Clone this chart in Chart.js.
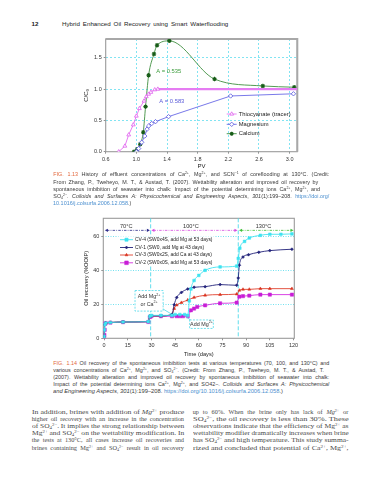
<!DOCTYPE html>
<html>
<head>
<meta charset="utf-8">
<script src="https://cdn.jsdelivr.net/npm/chart.js@4.4.0/dist/chart.umd.min.js"></script>
<style>
  html, body { margin: 0; padding: 0; background: #fff; }
  body { width: 389px; height: 480px; position: relative; overflow: hidden; color: #222; }
  canvas { position: absolute; }
  .ln { position: absolute; white-space: nowrap; line-height: 1; transform-origin: 0 50%; }
  .head { font-family: 'Liberation Sans', Arial, sans-serif; font-size: 6.2px; color: #222; }
  .cap { font-family: 'Liberation Sans', Arial, sans-serif; font-size: 5.4px; color: #3a3a3a; }
  .txt { font-family: 'Liberation Serif', 'Times New Roman', serif; font-size: 6.3px; color: #4a4a4a; }
  sup { font-size: 65%; vertical-align: 0.45em; line-height: 0; }
  sub { font-size: 65%; vertical-align: -0.25em; line-height: 0; }
  .fig { color: #e2673c; }
  .lnk { color: #4b8fcf; }
</style>
</head>
<body>
<canvas id="chart-top" width="250" height="142" style="left:60px;top:32px"></canvas>
<canvas id="chart-bottom" width="250" height="146" style="left:58px;top:212px"></canvas>
<script>
'use strict';

//  TOP CHART DATA (effluent concentration vs pore volumes)
let pvTicks = [0.6, 1.0, 1.4, 1.8, 2.2, 2.6, 3.0];
let ccTicks = [0.0, 0.5, 1.0, 1.5];

let thioPV = [0.77, 0.85, 0.90, 0.96, 1.00, 1.04, 1.10, 1.13, 1.16, 1.19, 1.24, 1.28, 3.10];
let thioC = [0.00, 0.09, 0.27, 0.43, 0.57, 0.69, 0.81, 0.88, 0.92, 0.95, 0.99, 1.00, 1.00];

let mgPV = [1.00, 1.03, 1.07, 1.11, 1.14, 1.16, 1.20, 1.25, 1.42, 2.23, 3.05];
let mgC = [0.00, 0.05, 0.15, 0.25, 0.36, 0.41, 0.45, 0.48, 0.56, 0.89, 0.925];

let caPV = [0.97, 1.01, 1.05, 1.09, 1.12, 1.16, 1.23, 1.27, 1.43, 2.02, 2.65, 3.06];
let caC = [0.00, 0.04, 0.12, 0.31, 0.72, 1.22, 1.56, 1.70, 1.77, 1.16, 1.05, 1.03];

//  BOTTOM CHART DATA (oil recovery vs time)
let dayTicks = [0, 15, 30, 45, 60, 75, 90, 105, 120];
let recTicks = [0, 20, 40, 60];

let cv4Days = [0, 0.2, 0.4, 1, 4, 12, 28, 29, 30, 36, 43, 45, 48, 51, 53, 54, 55, 57, 60, 64, 73.5, 84, 85, 86, 89, 92, 99, 105, 112, 119];
let cv4Rec = [1, 5, 8, 9, 9.3, 9.6, 9.8, 13, 13.5, 13.5, 13.5, 14, 14, 14, 13.5, 22, 29, 34, 37, 40, 42, 42.5, 47, 53, 57, 59, 60.6, 61.2, 61.2, 61.4];

let cv1Days = [0, 0.3, 1, 4, 12, 28, 29, 30, 36, 43, 44.4, 46, 49, 53, 57, 64, 73.5, 84, 85, 85.7, 88, 91.5, 98, 105, 119];
let cv1Rec = [1, 8, 9, 9.3, 9.6, 9.8, 13, 13.2, 13.2, 14, 19.8, 24, 27, 29, 30, 30.4, 31.6, 31.2, 35.5, 43, 47.8, 49.2, 50.6, 51.6, 52.4];

let cv3Days = [0, 0.3, 1, 4, 12, 28, 29, 30, 36, 43, 44.4, 46, 49, 53, 57, 64, 73.5, 84, 85.7, 88, 92, 99, 105, 119];
let cv3Rec = [1, 8, 9, 9.3, 9.6, 9.8, 13, 13.2, 13.2, 14, 17.5, 19.5, 21, 22.5, 24, 25.3, 25.7, 26, 28.2, 28.8, 28.8, 29.2, 29.2, 29.2];

let cv2Days = [0, 0.2, 0.4, 0.6, 1, 4, 12, 28, 29, 30, 36, 43, 46, 48, 50, 53, 55, 57, 59, 64, 73.5, 84, 85.7, 88, 92, 99, 105, 119];
let cv2Rec = [0.5, 2, 5, 8.5, 9, 9.2, 9.5, 9.6, 12.5, 13, 13, 13, 13, 13, 13, 13, 16.5, 17.5, 18.5, 19.4, 20.6, 21, 24.5, 24.8, 25.1, 25.7, 25.7, 25.7];

let tempLabels = ['70°C', '100°C', '130°C'];
let tempBounds = [0, 29.5, 85, 120.5];
let tempTextDay = [14, 55, 101];
let tempColors = ['#2b2b8c', '#d54ae0', '#42c23a'];

//  HELPERS
const FONT = "'Liberation Sans', Arial, sans-serif";
const GRID_CYAN = 'rgba(70, 215, 235, 0.85)';
const CLEAR = 'rgba(0,0,0,0)';

Chart.defaults.font.family = FONT;
Chart.defaults.color = '#333';

function pairs(xs, ys) {
  return xs.map((x, i) => ({ x: x, y: ys[i] }));
}

function drawMarker(ctx, style, x, y, r, fill, stroke, lw) {
  ctx.save();
  ctx.lineWidth = lw;
  ctx.strokeStyle = stroke;
  ctx.fillStyle = fill;
  ctx.setLineDash([]);
  ctx.beginPath();
  if (style === 'triangle') {
    ctx.moveTo(x, y - r);
    ctx.lineTo(x + r * 0.87, y + r * 0.5);
    ctx.lineTo(x - r * 0.87, y + r * 0.5);
    ctx.closePath();
    ctx.fill();
    ctx.stroke();
  } else if (style === 'rectRot') {
    ctx.moveTo(x, y - r);
    ctx.lineTo(x + r, y);
    ctx.lineTo(x, y + r);
    ctx.lineTo(x - r, y);
    ctx.closePath();
    ctx.fill();
    ctx.stroke();
  } else if (style === 'rect') {
    ctx.rect(x - r * 0.8, y - r * 0.8, r * 1.6, r * 1.6);
    ctx.fill();
    ctx.stroke();
  } else if (style === 'star') {
    ctx.moveTo(x - r, y); ctx.lineTo(x + r, y);
    ctx.moveTo(x, y - r); ctx.lineTo(x, y + r);
    ctx.moveTo(x - r * 0.7, y - r * 0.7); ctx.lineTo(x + r * 0.7, y + r * 0.7);
    ctx.moveTo(x - r * 0.7, y + r * 0.7); ctx.lineTo(x + r * 0.7, y - r * 0.7);
    ctx.stroke();
  }
  ctx.restore();
}

// parts: [[text, ''|'sup']]
function richText(ctx, parts, x, y, size, align, color) {
  let widths = parts.map(p => {
    ctx.font = (p[1] ? size * 0.68 : size) + 'px ' + FONT;
    return ctx.measureText(p[0]).width;
  });
  let total = widths.reduce((a, b) => a + b, 0);
  let cx = align === 'center' ? x - total / 2 : x;
  ctx.textBaseline = 'middle';
  ctx.textAlign = 'left';
  ctx.fillStyle = color;
  parts.forEach((p, i) => {
    ctx.font = (p[1] ? size * 0.68 : size) + 'px ' + FONT;
    ctx.fillText(p[0], cx, p[1] ? y - size * 0.38 : y);
    cx += widths[i];
  });
}

function arrowHead(ctx, x, y, dir, color) {
  ctx.fillStyle = color;
  ctx.beginPath();
  ctx.moveTo(x, y);
  ctx.lineTo(x - dir * 3, y - 1.6);
  ctx.lineTo(x - dir * 3, y + 1.6);
  ctx.closePath();
  ctx.fill();
}

function drawLegend(ctx, chart, x0, x1, rows, size) {
  chart.data.datasets.forEach((ds, i) => {
    let yy = rows[i];
    ctx.save();
    ctx.strokeStyle = ds.borderColor;
    ctx.lineWidth = 0.9;
    ctx.beginPath();
    ctx.moveTo(x0, yy);
    ctx.lineTo(x1, yy);
    ctx.stroke();
    ctx.restore();
    drawMarker(ctx, ds.pointStyle, (x0 + x1) / 2, yy, ds.legendRadius, ds.pointBackgroundColor, ds.pointBorderColor, ds.pointBorderWidth);
    ctx.fillStyle = '#222';
    ctx.font = size + 'px ' + FONT;
    ctx.textBaseline = 'middle';
    ctx.textAlign = 'left';
    ctx.fillText(ds.label, x1 + 2, yy);
  });
}

// FRAME AROUND PLOT AREA
let framePlugin = {
  id: 'frame',
  beforeDatasetsDraw(chart) {
    let { ctx, chartArea: a } = chart;
    ctx.save();
    ctx.strokeStyle = '#9a9a9a';
    ctx.lineWidth = 1.1;
    ctx.strokeRect(a.left, a.top, a.right - a.left, a.bottom - a.top);
    ctx.restore();
  }
};

// TOP CHART NOTES
let topNotes = {
  id: 'topNotes',
  beforeDatasetsDraw(chart) {
    let { ctx, chartArea: a } = chart;
    ctx.save();
    ctx.strokeStyle = '#a8a8a8';
    ctx.lineWidth = 2;
    ctx.beginPath();
    ctx.moveTo(a.left, a.top);
    ctx.lineTo(a.right, a.top);
    ctx.lineTo(a.right, a.bottom);
    ctx.stroke();
    ctx.restore();
  },
  afterDatasetsDraw(chart) {
    let { ctx, chartArea: a, scales: { x, y } } = chart;
    ctx.save();
    ctx.font = '5.8px ' + FONT;
    ctx.textBaseline = 'middle';
    ctx.textAlign = 'left';
    ctx.fillStyle = '#3c9c3c';
    ctx.fillText('A = 0.535', x.getPixelForValue(1.26), y.getPixelForValue(1.28));
    ctx.fillStyle = '#5a5ad8';
    ctx.fillText('A = 0.583', x.getPixelForValue(1.30), y.getPixelForValue(0.80));
    drawLegend(ctx, chart, a.right - 70.6, a.right - 60.6,
      [a.bottom - 37.7, a.bottom - 27.4, a.bottom - 18], 5.8);
    ctx.restore();
  }
};

// BOTTOM CHART NOTES
let bottomNotes = {
  id: 'bottomNotes',
  beforeDatasetsDraw(chart) {
    let { ctx, chartArea: a, scales: { x, y } } = chart;
    ctx.save();
    ctx.strokeStyle = '#4fd9ea';
    ctx.lineWidth = 0.9;
    ctx.setLineDash([4, 2]);
    [tempBounds[1], tempBounds[2]].forEach(d => {
      let px = x.getPixelForValue(d);
      ctx.beginPath();
      ctx.moveTo(px, a.top);
      ctx.lineTo(px, a.bottom);
      ctx.stroke();
    });
    let ay = y.getPixelForValue(63.5);
    tempLabels.forEach((t, i) => {
      let x0 = x.getPixelForValue(tempBounds[i]) + 0.8;
      let x1 = x.getPixelForValue(tempBounds[i + 1]) - 0.8;
      ctx.strokeStyle = tempColors[i];
      ctx.lineWidth = 0.8;
      ctx.setLineDash([2.5, 1.2, 0.8, 1.2]);
      ctx.beginPath();
      ctx.moveTo(x0 + 2, ay);
      ctx.lineTo(x1 - 2, ay);
      ctx.stroke();
      ctx.setLineDash([]);
      arrowHead(ctx, x0, ay, -1, tempColors[i]);
      arrowHead(ctx, x1, ay, 1, tempColors[i]);
      ctx.font = '5.6px ' + FONT;
      ctx.fillStyle = '#333';
      ctx.textAlign = 'center';
      ctx.textBaseline = 'middle';
      ctx.fillText(t, x.getPixelForValue(tempTextDay[i]), ay - 4.4);
    });
    ctx.restore();
  },
  afterDatasetsDraw(chart) {
    let { ctx, chartArea: a, scales: { x, y } } = chart;
    ctx.save();
    // box: Add Mg or Ca at 43 days
    let bx0 = x.getPixelForValue(19.6), bx1 = x.getPixelForValue(37.4);
    let by0 = y.getPixelForValue(28.1), by1 = y.getPixelForValue(16);
    ctx.strokeStyle = '#4fd9ea';
    ctx.lineWidth = 0.8;
    ctx.beginPath();
    ctx.moveTo(bx1, y.getPixelForValue(17.2));
    ctx.lineTo(x.getPixelForValue(42.8), y.getPixelForValue(14.2));
    ctx.stroke();
    ctx.fillStyle = '#fff';
    ctx.fillRect(bx0, by0, bx1 - bx0, by1 - by0);
    ctx.setLineDash([2, 1.3]);
    ctx.strokeRect(bx0, by0, bx1 - bx0, by1 - by0);
    richText(ctx, [['Add Mg', ''], ['2+', 'sup']], (bx0 + bx1) / 2, y.getPixelForValue(24.5), 5.4, 'center', '#333');
    richText(ctx, [['or Ca', ''], ['2+', 'sup']], (bx0 + bx1) / 2, y.getPixelForValue(20), 5.4, 'center', '#333');
    // box: Add Mg at 53 days
    let cx0 = x.getPixelForValue(54.2), cx1 = x.getPixelForValue(69.2);
    let cy0 = y.getPixelForValue(10.8), cy1 = y.getPixelForValue(5.8);
    ctx.setLineDash([]);
    ctx.beginPath();
    ctx.moveTo(cx0 + 1, cy0);
    ctx.lineTo(x.getPixelForValue(51.8), y.getPixelForValue(12.6));
    ctx.stroke();
    ctx.fillStyle = '#fff';
    ctx.fillRect(cx0, cy0, cx1 - cx0, cy1 - cy0);
    ctx.setLineDash([2, 1.3]);
    ctx.strokeRect(cx0, cy0, cx1 - cx0, cy1 - cy0);
    richText(ctx, [['Add Mg', ''], ['2+', 'sup']], (cx0 + cx1) / 2, y.getPixelForValue(8.2), 5.4, 'center', '#333');
    ctx.setLineDash([]);
    // legend with white backing
    ctx.fillStyle = '#fff';
    ctx.fillRect(a.left + 15, a.top + 18, 96, 30);
    drawLegend(ctx, chart, a.left + 16.7, a.left + 29.7,
      [a.top + 21.4, a.top + 29.2, a.top + 36.7, a.top + 44.5], 4.9);
    ctx.restore();
  }
};

function gridColorSkip(skipValue) {
  return ctx => (ctx.tick && Math.abs(ctx.tick.value - skipValue) < 1e-9) ? CLEAR : GRID_CYAN;
}

//  TOP CHART
new Chart(document.getElementById('chart-top'), {
  type: 'line',
  data: {
    datasets: [
      {
        label: 'Thiocyanate (tracer)',
        data: pairs(thioPV, thioC),
        borderColor: '#e57cf2',
        borderWidth: 1,
        pointStyle: 'triangle',
        pointRadius: ctx => (ctx.parsed && ctx.parsed.x > 1.3) ? 0 : 2.2,
        legendRadius: 2.2,
        pointBorderColor: '#de5cee',
        pointBackgroundColor: '#ffffff',
        pointBorderWidth: 0.8,
        segment: { borderWidth: ctx => ctx.p0.parsed.x >= 1.27 ? 2.4 : 1 },
        tension: 0
      },
      {
        label: 'Magnesium',
        data: pairs(mgPV, mgC),
        borderColor: '#6a6ae6',
        borderWidth: 0.9,
        pointStyle: 'rectRot',
        pointRadius: 2.2,
        legendRadius: 2.2,
        pointBorderColor: '#5555dd',
        pointBackgroundColor: '#ffffff',
        pointBorderWidth: 0.8,
        tension: 0
      },
      {
        label: 'Calcium',
        data: pairs(caPV, caC),
        borderColor: '#3f8f3f',
        borderWidth: 0.9,
        pointStyle: 'star',
        pointRadius: 2.2,
        legendRadius: 2,
        pointBorderColor: '#175c17',
        pointBackgroundColor: '#175c17',
        pointBorderWidth: 1.1,
        cubicInterpolationMode: 'monotone'
      }
    ]
  },
  options: {
    responsive: false,
    animation: false,
    layout: { padding: { top: 7, right: 12.7, left: 0, bottom: 0 } },
    plugins: { legend: { display: false }, tooltip: { enabled: false } },
    scales: {
      x: {
        type: 'linear',
        min: 0.6,
        max: 3.1,
        afterBuildTicks: s => { s.ticks = pvTicks.map(v => ({ value: v })); },
        afterFit: s => { s.height = 22.3; },
        ticks: { callback: v => Number(v).toFixed(1), font: { size: 5.5 }, color: '#333', padding: 2, maxRotation: 0, autoSkip: false },
        grid: { color: gridColorSkip(0.6), lineWidth: 0.8, drawTicks: true, tickLength: 2, tickColor: '#666', tickWidth: 0.7 },
        border: { display: false, dash: [2, 2] },
        title: { display: true, text: 'PV', font: { size: 6 }, color: '#222', padding: { top: 0, bottom: 4.4 } }
      },
      y: {
        type: 'linear',
        min: 0,
        max: 1.8,
        afterBuildTicks: s => { s.ticks = ccTicks.map(v => ({ value: v })); },
        afterFit: s => { s.width = 45.7; },
        ticks: { callback: v => Number(v).toFixed(1), font: { size: 5.5 }, color: '#333', padding: 2 },
        grid: { color: gridColorSkip(0), lineWidth: 0.8, drawTicks: true, tickLength: 2, tickColor: '#666', tickWidth: 0.7 },
        border: { display: false, dash: [2, 2] },
        title: { display: true, text: 'C/C₀', font: { size: 6 }, color: '#222', padding: { top: 23.1, bottom: 0 } }
      }
    }
  },
  plugins: [framePlugin, topNotes]
});

//  BOTTOM CHART
new Chart(document.getElementById('chart-bottom'), {
  type: 'line',
  data: {
    datasets: [
      {
        label: 'CV-4 (SW0x4S, add Mg at 53 days)',
        data: pairs(cv4Days, cv4Rec),
        borderColor: '#3fe3f0',
        borderWidth: 0.9,
        pointStyle: 'rect',
        pointRadius: 1.9,
        legendRadius: 2,
        pointBorderColor: '#3fe3f0',
        pointBackgroundColor: '#3fe3f0',
        pointBorderWidth: 0.5,
        cubicInterpolationMode: 'monotone'
      },
      {
        label: 'CV-1 (SW0, add Mg at 43 days)',
        data: pairs(cv1Days, cv1Rec),
        borderColor: '#23237a',
        borderWidth: 0.9,
        pointStyle: 'rectRot',
        pointRadius: 1.5,
        legendRadius: 1.5,
        pointBorderColor: '#23237a',
        pointBackgroundColor: '#23237a',
        pointBorderWidth: 0.5,
        cubicInterpolationMode: 'monotone'
      },
      {
        label: 'CV-3 (SW0x2S, add Ca at 43 days)',
        data: pairs(cv3Days, cv3Rec),
        borderColor: '#e0402c',
        borderWidth: 0.9,
        pointStyle: 'triangle',
        pointRadius: 1.7,
        legendRadius: 1.7,
        pointBorderColor: '#d8301c',
        pointBackgroundColor: '#d8301c',
        pointBorderWidth: 0.5,
        cubicInterpolationMode: 'monotone'
      },
      {
        label: 'CV-2 (SW0x0S, add Mg at 53 days)',
        data: pairs(cv2Days, cv2Rec),
        borderColor: '#d42ee0',
        borderWidth: 0.9,
        pointStyle: 'rect',
        pointRadius: 2.3,
        legendRadius: 2.3,
        pointBorderColor: '#c81ed6',
        pointBackgroundColor: '#c81ed6',
        pointBorderWidth: 0.5,
        cubicInterpolationMode: 'monotone'
      }
    ]
  },
  options: {
    responsive: false,
    animation: false,
    layout: { padding: { top: 6.3, right: 13.7, left: 0, bottom: 0 } },
    plugins: { legend: { display: false }, tooltip: { enabled: false } },
    scales: {
      x: {
        type: 'linear',
        min: -0.5,
        max: 120.5,
        afterBuildTicks: s => { s.ticks = dayTicks.map(v => ({ value: v })); },
        afterFit: s => { s.height = 19.7; },
        ticks: { font: { size: 5.5 }, color: '#333', padding: 2.1, maxRotation: 0, autoSkip: false },
        grid: { drawOnChartArea: false, drawTicks: true, tickLength: 2, tickColor: '#666', tickWidth: 0.7 },
        border: { display: false },
        title: { display: true, text: 'Time (days)', font: { size: 5.7 }, color: '#222', padding: { top: 0, bottom: 0.6 } }
      },
      y: {
        type: 'linear',
        min: 0,
        max: 70.6,
        afterBuildTicks: s => { s.ticks = recTicks.map(v => ({ value: v })); },
        afterFit: s => { s.width = 45.3; },
        ticks: { font: { size: 5.5 }, color: '#333', padding: 2 },
        grid: { color: gridColorSkip(0), lineWidth: 0.9, drawTicks: true, tickLength: 2, tickColor: '#666', tickWidth: 0.7 },
        border: { display: false, dash: [1, 1.5] },
        title: { display: true, text: 'Oil recovery (%OOIP)', font: { size: 5.7 }, color: '#222', padding: { top: 25.3, bottom: 0 } }
      }
    }
  },
  plugins: [framePlugin, bottomNotes]
});

//  PAGE TEXT
function fitLine(html, cls, x, yc, endX) {
  let el = document.createElement('div');
  el.className = 'ln ' + cls;
  el.innerHTML = html;
  el.style.left = x + 'px';
  document.body.appendChild(el);
  let box = el.getBoundingClientRect();
  el.style.top = (yc - box.height / 2) + 'px';
  if (endX) {
    let target = endX - x;
    let spaces = (el.textContent.match(/ /g) || []).length;
    let gap = target - box.width;
    if (gap > 0 && spaces > 0 && gap / spaces < 2.5) {
      el.style.wordSpacing = (gap / spaces) + 'px';
    } else {
      el.style.transform = 'scaleX(' + (target / box.width) + ')';
    }
  }
}

fitLine('<b>12</b>', 'head', 31.5, 23.7, 0);
fitLine('Hybrid Enhanced Oil Recovery using Smart Waterflooding', 'head', 62, 23.7, 228.3);

let caption1 = [
  ['<span class="fig">FIG. 1.13</span> History of effluent concentrations of Ca<sup>2+</sup>, Mg<sup>2+</sup>, and SCN<sup>−1</sup> of coreflooding at 130°C. (Credit:', 329.3],
  ['From Zhang, P., Tweheyo, M. T., &amp; Austad, T. (2007). Wettability alteration and improved oil recovery by', 318.3],
  ['spontaneous imbibition of seawater into chalk: Impact of the potential determining ions Ca<sup>2+</sup>, Mg<sup>2+</sup>, and', 320],
  ['SO<sub>4</sub><sup>2−</sup>. <i>Colloids and Surfaces A: Physicochemical and Engineering Aspects</i>, <i>301</i>(1):199–208. <span class="lnk">https://doi.org/</span>', 329.3],
  ['<span class="lnk">10.1016/j.colsurfa.2006.12.058</span>.)', 131.7]
];
caption1.forEach((l, i) => fitLine(l[0], 'cap', 53.3, 175 + i * 7.3, l[1]));

let caption2 = [
  ['<span class="fig">FIG. 1.14</span> Oil recovery of the spontaneous imbibition tests at various temperatures (70, 100, and 130°C) and', 329.3],
  ['various concentrations of Ca<sup>2+</sup>, Mg<sup>2+</sup>, and SO<sub>4</sub><sup>2−</sup>. (Credit: From Zhang, P., Tweheyo, M. T., &amp; Austad, T.', 324],
  ['(2007). Wettability alteration and improved oil recovery by spontaneous imbibition of seawater into chalk:', 329.3],
  ['Impact of the potential determining ions Ca<sup>2+</sup>, Mg<sup>2+</sup>, and SO42−. <i>Colloids and Surfaces A: Physicochemical</i>', 329.3],
  ['<i>and Engineering Aspects</i>, <i>301</i>(1):199–208. <span class="lnk">https://doi.org/10.1016/j.colsurfa.2006.12.058</span>.)', 283.3]
];
caption2.forEach((l, i) => fitLine(l[0], 'cap', 53.3, 364 + i * 7.0, l[1]));

let bodyLeft = [
  'In addition, brines with addition of <i>Mg</i><sup>2+</sup> produce',
  'higher oil recovery with an increase in the concentration',
  'of SO<sub>4</sub><sup>2−</sup>. It implies the strong relationship between',
  'Mg<sup>2+</sup> and SO<sub>4</sub><sup>2−</sup> on the wettability modification. In',
  'the tests at 130°C, all cases increase oil recoveries and',
  'brines containing Mg<sup>2+</sup> and SO<sub>4</sub><sup>2−</sup> result in oil recovery'
];
let bodyRight = [
  'up to 60%. When the brine only has lack of <i>Mg</i><sup>2+</sup> or',
  'SO<sub>4</sub><sup>2−</sup>, the oil recovery is less than 30%. These',
  'observations indicate that the efficiency of Mg<sup>2+</sup> as',
  'wettability modifier dramatically increases when brine',
  'has SO<sub>4</sub><sup>2−</sup> and high temperature. This study summa-',
  'rized and concluded that potential of Ca<sup>2+</sup>, Mg<sup>2+</sup>,'
];
bodyLeft.forEach((l, i) => fitLine(l, 'txt', 31.7, 411.7 + i * 7.2, 184));
bodyRight.forEach((l, i) => fitLine(l, 'txt', 192.7, 411.7 + i * 7.2, 348.3));
</script>
</body>
</html>
